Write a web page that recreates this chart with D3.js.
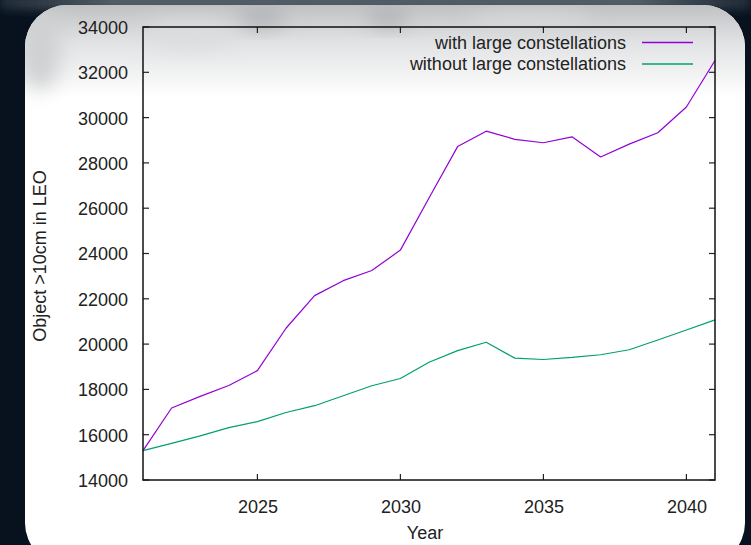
<!DOCTYPE html>
<html>
<head>
<meta charset="utf-8">
<script src="https://cdn.jsdelivr.net/npm/d3@7/dist/d3.min.js"></script>
<style>
  html, body { margin: 0; padding: 0; background: #08121f; }
  svg { display: block; }
  text { font-family: "Liberation Sans", Arial, sans-serif; fill: #222; }
</style>
</head>
<body>
<svg id="chart" width="751" height="545"></svg>
<script>
// Tracked objects larger than 10 cm in low Earth orbit, projected per year
const years = d3.range(2021, 2042);
const withConstellations = [
  15300, 17180, 17690, 18170, 18830, 20700, 22140, 22800, 23250, 24150,
  26450, 28720, 29400, 29040, 28890, 29150, 28260, 28830, 29330, 30470, 32520
];
const withoutConstellations = [
  15300, 15620, 15950, 16310, 16580, 16980, 17280, 17720, 18160, 18480,
  19200, 19710, 20080, 19380, 19320, 19410, 19530, 19750, 20180, 20620, 21070
];
const seriesNames = ["with large constellations", "without large constellations"];
const seriesColors = ["#9400d3", "#009e73"];
const yTicks = [14000, 16000, 18000, 20000, 22000, 24000, 26000, 28000, 30000, 32000, 34000];
const xTicks = [2025, 2030, 2035, 2040];

const svg = d3.select("#chart");
const W = 751, H = 545;
const plot = { left: 143, right: 715, top: 27, bottom: 480 };

const defs = svg.append("defs");
const haze = defs.append("linearGradient").attr("id", "haze")
  .attr("x1", 0).attr("y1", 0).attr("x2", 0).attr("y2", 1);
haze.append("stop").attr("offset", "0%").attr("stop-color", "#bfc1c3");
haze.append("stop").attr("offset", "40%").attr("stop-color", "#e2e3e4");
haze.append("stop").attr("offset", "100%").attr("stop-color", "#ffffff");
const topBand = defs.append("linearGradient").attr("id", "topBand")
  .attr("x1", 0).attr("y1", 0).attr("x2", 1).attr("y2", 0);
topBand.append("stop").attr("offset", "0%").attr("stop-color", "#1e2a36");
topBand.append("stop").attr("offset", "15%").attr("stop-color", "#56606a");
topBand.append("stop").attr("offset", "85%").attr("stop-color", "#56606a");
topBand.append("stop").attr("offset", "100%").attr("stop-color", "#1e2a36");
defs.append("filter").attr("id", "soft").attr("x", "-50%").attr("y", "-50%")
  .attr("width", "200%").attr("height", "200%")
  .append("feGaussianBlur").attr("stdDeviation", 10);
defs.append("filter").attr("id", "softer").attr("x", "-20%").attr("y", "-100%")
  .attr("width", "140%").attr("height", "300%")
  .append("feGaussianBlur").attr("stdDeviation", 4);
defs.append("clipPath").attr("id", "cardClip")
  .append("rect").attr("x", 25).attr("y", 5).attr("width", 720).attr("height", 560).attr("rx", 42);

// dark backdrop and the band above the card
svg.append("rect").attr("width", W).attr("height", H).attr("fill", "#08121f");
svg.append("rect").attr("x", 0).attr("y", -6).attr("width", W).attr("height", 16)
  .attr("fill", "url(#topBand)").attr("filter", "url(#softer)");

// white card with soft grey haze along its top
const card = svg.append("g").attr("clip-path", "url(#cardClip)");
card.append("rect").attr("x", 25).attr("y", 5).attr("width", 720).attr("height", 560).attr("fill", "#ffffff");
card.append("rect").attr("x", 25).attr("y", 5).attr("width", 720).attr("height", 95).attr("fill", "url(#haze)");
card.append("rect").attr("x", 25).attr("y", 95).attr("width", 720).attr("height", 30).attr("fill", "#ffffff").attr("filter", "url(#soft)");
[[262, 16, 24, 12, "#b3b6b9"], [388, 16, 20, 11, "#b0b3b6"], [190, 34, 45, 14, "#dcdddf"],
 [530, 24, 60, 12, "#d6d8da"], [40, 50, 20, 40, "#cfd0d1"]].forEach(([cx, cy, rx, ry, c]) => {
  card.append("ellipse").attr("cx", cx).attr("cy", cy).attr("rx", rx).attr("ry", ry)
    .attr("fill", c).attr("filter", "url(#soft)");
});

const x = d3.scaleLinear().domain([2021, 2041]).range([plot.left, plot.right]);
const y = d3.scaleLinear().domain([14000, 34000]).range([plot.bottom, plot.top]);

const g = svg.append("g");

// data lines
const line = d3.line().x((d, i) => x(years[i])).y(d => y(d));
[withConstellations, withoutConstellations].forEach((vals, k) => {
  g.append("path").datum(vals).attr("d", line)
    .attr("fill", "none").attr("stroke", seriesColors[k])
    .attr("stroke-width", 1.2).attr("stroke-linejoin", "round");
});

// axes: ticks point inward on all four sides, labels on left and bottom
const tickLen = 6;
const axisLeft = d3.axisLeft(y).tickValues(yTicks).tickSize(0).tickPadding(15).tickFormat(d3.format("d"));
const axisBottom = d3.axisBottom(x).tickValues(xTicks).tickSize(0).tickPadding(20).tickFormat(d3.format("d"));
const la = g.append("g").attr("transform", `translate(${plot.left},0)`).call(axisLeft);
const ba = g.append("g").attr("transform", `translate(0,${plot.bottom})`).call(axisBottom);
[la, ba].forEach(a => {
  a.select(".domain").remove();
  a.selectAll("text").attr("font-size", 18).attr("fill", "#222")
    .attr("font-family", "'Liberation Sans', Arial, sans-serif");
});
la.selectAll("text").attr("dy", "0.36em");

const ticks = g.append("g").attr("stroke", "#222").attr("stroke-width", 1.2);
yTicks.forEach(v => {
  ticks.append("line").attr("x1", plot.left).attr("x2", plot.left + tickLen).attr("y1", y(v)).attr("y2", y(v));
  ticks.append("line").attr("x1", plot.right).attr("x2", plot.right - tickLen).attr("y1", y(v)).attr("y2", y(v));
});
xTicks.forEach(v => {
  ticks.append("line").attr("x1", x(v)).attr("x2", x(v)).attr("y1", plot.bottom).attr("y2", plot.bottom - tickLen);
  ticks.append("line").attr("x1", x(v)).attr("x2", x(v)).attr("y1", plot.top).attr("y2", plot.top + tickLen);
});
g.append("rect").attr("x", plot.left).attr("y", plot.top)
  .attr("width", plot.right - plot.left).attr("height", plot.bottom - plot.top)
  .attr("fill", "none").attr("stroke", "#111").attr("stroke-width", 1.5);

// axis titles
g.append("text").attr("x", 425).attr("y", 539).attr("text-anchor", "middle")
  .attr("font-size", 18).text("Year");
g.append("text").attr("transform", "translate(46,256) rotate(-90)").attr("text-anchor", "middle")
  .attr("font-size", 18).text("Object >10cm in LEO");

// legend
const legend = g.append("g");
seriesNames.forEach((name, k) => {
  const ly = 42.5 + k * 21.5;
  legend.append("text").attr("x", 626).attr("y", ly).attr("dy", "0.36em")
    .attr("text-anchor", "end").attr("font-size", 18).text(name);
  legend.append("line").attr("x1", 642).attr("x2", 693).attr("y1", ly).attr("y2", ly)
    .attr("stroke", seriesColors[k]).attr("stroke-width", 1.3);
});
</script>
</body>
</html>
